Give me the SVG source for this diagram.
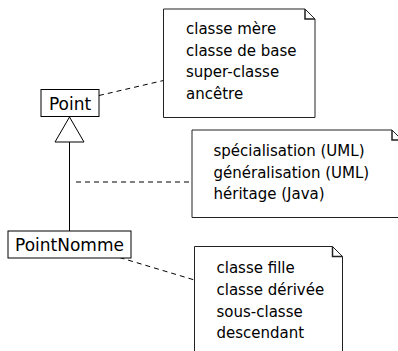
<svg xmlns="http://www.w3.org/2000/svg" width="398" height="351" viewBox="0 0 398 351">
<style>
.box{fill:#fff;stroke:#000;stroke-width:1}
.note{fill:#fff;stroke:#222;stroke-width:1}
.fold{fill:none;stroke:#222;stroke-width:1.5}
.cls{font-family:"DejaVu Sans",sans-serif;font-size:17px;fill:#000;text-anchor:middle}
.nt{font-family:"DejaVu Sans",sans-serif;font-size:15px;fill:#000}
.dash{fill:none;stroke:#000;stroke-width:1;stroke-dasharray:5,4}
.line{fill:none;stroke:#000;stroke-width:1}
</style>
<rect width="398" height="351" fill="#fff"/>
<g id="connectors">
<line class="line" x1="69.5" y1="142" x2="69.5" y2="231"/>
<polygon points="69.5,117 55,142 84,142" fill="#fff" stroke="#000" stroke-width="1"/>
<line class="dash" x1="99" y1="95.5" x2="163.5" y2="80.5"/>
<line class="dash" x1="76" y1="182" x2="192" y2="182"/>
<line class="dash" x1="119.5" y1="257.5" x2="194.5" y2="280"/>
</g>
<g id="Point">
<rect class="box" x="41" y="89.5" width="58" height="27"/>
<text class="cls" x="70" y="109.5">Point</text>
</g>
<g id="PointNomme">
<rect class="box" x="8" y="231" width="123" height="27"/>
<text class="cls" x="69.5" y="251">PointNomme</text>
</g>
<g id="note1">
<path class="note" d="M163.5,9 H305 L315,19 V117.5 H163.5 Z"/>
<path class="fold" d="M305,9 V19 H315"/>
<text class="nt" x="186" y="34">classe mère</text>
<text class="nt" x="186" y="55.7">classe de base</text>
<text class="nt" x="186" y="77.4">super-classe</text>
<text class="nt" x="186" y="99.1">ancêtre</text>
</g>
<g id="note2">
<path class="note" d="M192,130 H392 L402,140 V217.5 H192 Z"/>
<path class="fold" d="M392,130 V140 H402"/>
<text class="nt" x="213.5" y="156">spécialisation (UML)</text>
<text class="nt" x="213.5" y="177.7">généralisation (UML)</text>
<text class="nt" x="213.5" y="199.4">héritage (Java)</text>
</g>
<g id="note3">
<path class="note" d="M194.5,246.5 H332.5 L342.5,256.5 V360 H194.5 Z"/>
<path class="fold" d="M332.5,246.5 V256.5 H342.5"/>
<text class="nt" x="216.5" y="273.3">classe fille</text>
<text class="nt" x="216.5" y="295">classe dérivée</text>
<text class="nt" x="216.5" y="316.7">sous-classe</text>
<text class="nt" x="216.5" y="338.4">descendant</text>
</g>
</svg>
